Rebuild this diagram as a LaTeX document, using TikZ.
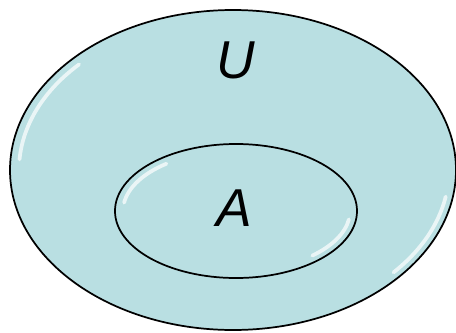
\documentclass[tikz,border=0pt]{standalone}
\usepackage{fontspec}
\setmainfont{Liberation Sans}
\definecolor{setfill}{HTML}{B9DFE2}
\tikzset{
  setline/.style={draw=black, line width=1.3pt, fill=setfill},
  shine/.style={white, line width=2.8pt, opacity=0.7, line cap=round},
  setlabel/.style={font=\fontsize{40}{48}\selectfont\itshape, inner sep=0pt}
}
\begin{document}
\begin{tikzpicture}[x=0.75pt, y=-0.75pt]
    \useasboundingbox (0,0) rectangle (456,332);

    % universe
    \draw[setline] (233,170) ellipse (223 and 160);
    \draw[shine] (233,170) ++(184:214 and 152) arc (184:224:214 and 152);
    \draw[shine] (233,170) ++(10:216 and 153) arc (10:42:216 and 153);

    % subset A
    \draw[setline] (236,211) ellipse (121 and 67);
    \draw[shine] (236,211) ++(188:113 and 60) arc (188:232:113 and 60);
    \draw[shine] (236,211) ++(8:114 and 60) arc (8:48:114 and 60);

    \node[setlabel] (U) at (236,60) {U};
    \node[setlabel] (A) at (234,208) {A};
\end{tikzpicture}
\end{document}
